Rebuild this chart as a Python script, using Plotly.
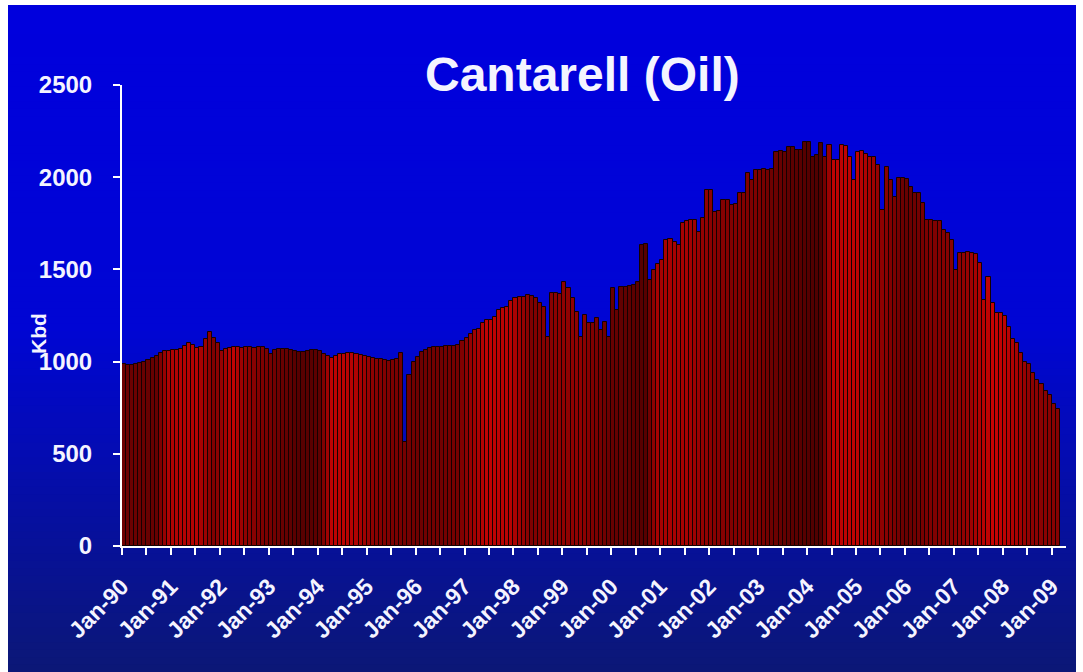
import numpy as np
import plotly.graph_objects as go

# Monthly Cantarell crude output, thousand barrels per day (Jan-1990 .. Feb-2009)
kbd_1990 = [985, 980, 980, 985, 995, 1000, 1010, 1020, 1030, 1045, 1055, 1060]
kbd_1991 = [1062, 1065, 1070, 1085, 1100, 1090, 1075, 1080, 1120, 1160, 1130, 1100]
kbd_1992 = [1055, 1070, 1075, 1080, 1080, 1075, 1080, 1080, 1075, 1080, 1078, 1070]
kbd_1993 = [1040, 1065, 1070, 1070, 1068, 1062, 1058, 1050, 1050, 1055, 1062, 1065]
kbd_1994 = [1055, 1040, 1030, 1022, 1030, 1040, 1040, 1045, 1045, 1040, 1035, 1030]
kbd_1995 = [1025, 1020, 1015, 1012, 1008, 1005, 1008, 1012, 1045, 565, 930, 1000]
kbd_1996 = [1025, 1050, 1065, 1072, 1078, 1080, 1080, 1082, 1082, 1085, 1090, 1110]
kbd_1997 = [1128, 1150, 1171, 1175, 1210, 1225, 1228, 1240, 1280, 1290, 1295, 1330]
kbd_1998 = [1345, 1348, 1352, 1361, 1355, 1345, 1320, 1296, 1133, 1370, 1372, 1365]
kbd_1999 = [1432, 1400, 1345, 1269, 1133, 1253, 1209, 1210, 1236, 1171, 1215, 1133]
kbd_2000 = [1400, 1280, 1405, 1405, 1410, 1415, 1432, 1632, 1640, 1443, 1497, 1530]
kbd_2001 = [1551, 1660, 1665, 1650, 1632, 1752, 1760, 1768, 1770, 1703, 1779, 1930]
kbd_2002 = [1930, 1811, 1815, 1876, 1878, 1850, 1855, 1914, 1916, 2022, 1985, 2039]
kbd_2003 = [2040, 2042, 2040, 2045, 2137, 2140, 2137, 2164, 2165, 2148, 2150, 2191]
kbd_2004 = [2191, 2110, 2120, 2186, 2110, 2175, 2093, 2095, 2175, 2170, 2110, 1985]
kbd_2005 = [2137, 2140, 2125, 2110, 2110, 2066, 1822, 2055, 1985, 1893, 1996, 1996]
kbd_2006 = [1990, 1947, 1914, 1914, 1860, 1768, 1768, 1765, 1760, 1714, 1700, 1660]
kbd_2007 = [1497, 1589, 1590, 1592, 1589, 1585, 1535, 1334, 1459, 1318, 1264, 1264]
kbd_2008 = [1250, 1188, 1120, 1100, 1047, 1000, 985, 938, 900, 880, 840, 820]
kbd_2009 = [770, 745]

production = (kbd_1990 + kbd_1991 + kbd_1992 + kbd_1993 + kbd_1994 + kbd_1995
              + kbd_1996 + kbd_1997 + kbd_1998 + kbd_1999 + kbd_2000 + kbd_2001
              + kbd_2002 + kbd_2003 + kbd_2004 + kbd_2005 + kbd_2006 + kbd_2007
              + kbd_2008 + kbd_2009)

year_labels = ["Jan-90", "Jan-91", "Jan-92", "Jan-93", "Jan-94", "Jan-95", "Jan-96",
               "Jan-97", "Jan-98", "Jan-99", "Jan-00", "Jan-01", "Jan-02", "Jan-03",
               "Jan-04", "Jan-05", "Jan-06", "Jan-07", "Jan-08", "Jan-09"]

y_ticks = [0, 500, 1000, 1500, 2000, 2500]

months = np.arange(len(production))

# ---- bar shading: brightness bands along the series (0 = dark, 1 = bright)
shade_idx = [0, 8, 11, 18, 22, 27, 30, 34, 43, 48, 51, 56, 62, 72, 82, 89, 95, 100,
             108, 112, 120, 128, 131, 138, 145, 155, 163, 171, 174, 180, 186, 192,
             198, 206, 213, 217, 222, 229]
shade_val = [0.35, 0.30, 0.75, 0.80, 0.45, 0.85, 0.55, 0.45, 0.20, 0.25, 0.85, 0.80,
             0.50, 0.35, 0.40, 0.85, 0.80, 0.45, 0.55, 0.55, 0.30, 0.20, 0.70, 0.70,
             0.50, 0.45, 0.25, 0.15, 0.85, 0.85, 0.55, 0.30, 0.45, 0.55, 0.90, 0.80,
             0.55, 0.50]
shade = np.interp(months, shade_idx, shade_val)
fill = [f"rgb({int(55 + 160 * s)},{int(4 * s)},{int(4 * s)})" for s in shade]

# ---- page geometry (pixels)
W, H = 1083, 672
L, R, T, B = 122, 17, 85, 126
pw, ph = W - L - R, H - T - B


def px_x(x):
    return (x - L) / pw


def px_y(y):
    return (H - B - y) / ph


# vertical blue gradient behind everything, inside a thin white frame
top_rgb = np.array([0, 0, 222])
mid_rgb = np.array([0, 6, 212])
bot_rgb = np.array([12, 24, 118])
shapes = []
n_strips = 90
y0_px, y1_px = 5, H
edges = np.linspace(y0_px, y1_px, n_strips + 1)
for k in range(n_strips):
    yc = (edges[k] + edges[k + 1]) / 2
    if yc < 330:
        c = top_rgb + (mid_rgb - top_rgb) * (yc / 330)
    else:
        c = mid_rgb + (bot_rgb - mid_rgb) * ((yc - 330) / (H - 330))
    c = c.astype(int)
    # each strip overlaps the next one so no seams show between them
    bottom = H if k == n_strips - 1 else edges[k + 1] + 3
    shapes.append(dict(type="rect", xref="paper", yref="paper", layer="below",
                       x0=px_x(8), x1=px_x(1076),
                       y0=px_y(bottom), y1=px_y(edges[k]),
                       fillcolor=f"rgb({c[0]},{c[1]},{c[2]})", line=dict(width=0)))

fig = go.Figure()
fig.add_trace(go.Bar(
    x=months, y=production,
    marker=dict(color=fill, line=dict(color="rgb(22,0,0)", width=1)),
    hoverinfo="x+y",
))

tickvals = [-0.5 + 6 * k for k in range(2 * len(year_labels) - 1)]
ticktext = []
for k in range(len(tickvals)):
    ticktext.append(year_labels[k // 2] if k % 2 == 0 else "")

bold_white = dict(family="Liberation Sans, Arial, sans-serif", color="#f4f4ff",
                  weight="bold")

fig.update_layout(
    width=W, height=H,
    margin=dict(l=L, r=R, t=T, b=B),
    paper_bgcolor="white",
    plot_bgcolor="rgba(0,0,0,0)",
    bargap=0,
    showlegend=False,
    shapes=shapes,
    xaxis=dict(
        range=[-0.5, len(production) - 0.5 + 1.5],
        tickmode="array", tickvals=tickvals, ticktext=ticktext,
        tickangle=-45, ticks="outside", ticklen=7, tickwidth=2, tickcolor="white",
        showline=True, linecolor="white", linewidth=2,
        showgrid=False, zeroline=False,
        tickfont=dict(size=23, **bold_white),
        ticklabelstandoff=9,
    ),
    yaxis=dict(
        range=[0, 2500],
        tickmode="array", tickvals=y_ticks,
        ticks="outside", ticklen=7, tickwidth=2, tickcolor="white",
        showline=True, linecolor="white", linewidth=2,
        showgrid=False, zeroline=False,
        tickfont=dict(size=24, **bold_white),
        ticklabelstandoff=16,
    ),
    annotations=[
        dict(text="Cantarell (Oil)", xref="paper", yref="paper",
             x=px_x(582), y=px_y(75), xanchor="center", yanchor="middle",
             showarrow=False, font=dict(size=48, **bold_white)),
        dict(text="Kbd", xref="paper", yref="paper",
             x=px_x(38), y=px_y(334), xanchor="center", yanchor="middle",
             textangle=-90, showarrow=False, font=dict(size=21, **bold_white)),
    ],
)

fig.write_html("out.html")
